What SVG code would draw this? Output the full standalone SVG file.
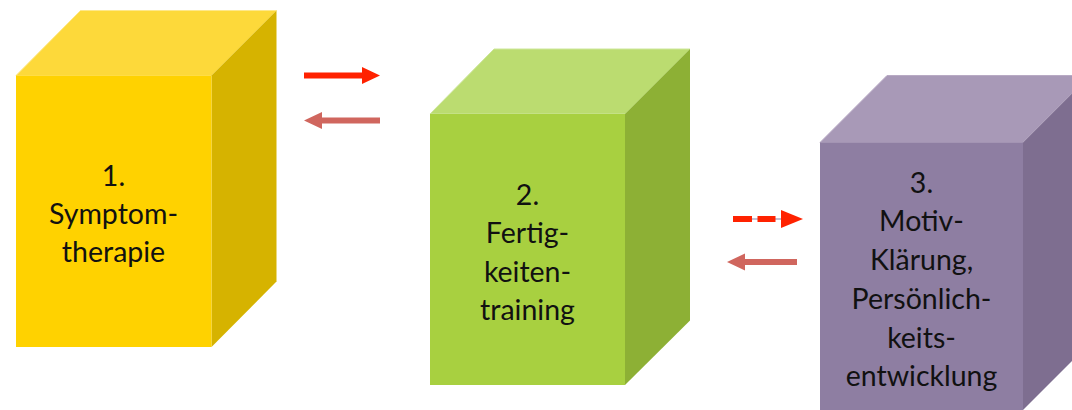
<svg xmlns="http://www.w3.org/2000/svg" width="1072" height="410" viewBox="0 0 1072 410">
  <style>
    .label { font-family: Lato, "Liberation Sans", sans-serif; font-size: 28.5px; fill: #111; text-anchor: middle; }
    .edge { stroke-width: 1; }
    .red { fill: #FF2200; }
    .rose { fill: #D0665E; }
  </style>

  <rect width="1072" height="410" fill="#FFFFFF"/>

  <!-- Box 1: Symptomtherapie -->
  <g id="node-symptomtherapie">
    <polygon points="16,75.5 80.5,10.5 276.5,10.5 211.5,75.5" fill="#FDD93A" stroke="#FEE88A" class="edge"/>
    <polygon points="211.5,75.5 276.5,10.5 276.5,281.5 211.5,347" fill="#D6B300"/>
    <rect x="16" y="75.5" width="195.5" height="271.5" fill="#FFD200"/>
    <text class="label" x="113.5" y="186">1.</text>
    <text class="label" x="113.5" y="224">Symptom-</text>
    <text class="label" x="113.5" y="262">therapie</text>
  </g>

  <!-- Box 2: Fertigkeitentraining -->
  <g id="node-fertigkeitentraining">
    <polygon points="430,114 494,49 690,49 625,114" fill="#BBDC70" stroke="#CDE69A" class="edge"/>
    <polygon points="625,114 690,49 690,320.5 625,385" fill="#8DB035"/>
    <rect x="430" y="114" width="195" height="271" fill="#A8D040"/>
    <text class="label" x="527.5" y="205">2.</text>
    <text class="label" x="527.5" y="243">Fertig-</text>
    <text class="label" x="527.5" y="282">keiten-</text>
    <text class="label" x="527.5" y="320">training</text>
  </g>

  <!-- Box 3: Motivklärung, Persönlichkeitsentwicklung -->
  <g id="node-motivklaerung">
    <polygon points="820,142.5 887,75.5 1090,75.5 1023,142.5" fill="#A899B7" stroke="#B8AAC4" class="edge"/>
    <polygon points="1023,142.5 1090,75.5 1090,343 1023,410" fill="#7E6E90"/>
    <rect x="820" y="142.5" width="203" height="270" fill="#8E7EA2"/>
    <text class="label" x="921.5" y="193">3.</text>
    <text class="label" x="921.5" y="231">Motiv-</text>
    <text class="label" x="921.5" y="270">Klärung,</text>
    <text class="label" x="921.5" y="309">Persönlich-</text>
    <text class="label" x="921.5" y="348">keits-</text>
    <text class="label" x="921.5" y="386">entwicklung</text>
  </g>

  <!-- Connectors: block arrows (shaft + head) -->
  <g id="connectors">
    <!-- 1 to 2 -->
    <path class="red" d="M304,72.5 H362 V67 L380,75.5 L362,84 V78.5 H304 Z"/>
    <!-- 2 to 1 -->
    <path class="rose" d="M380,117.5 H322 V112 L304,120.5 L322,129 V123.5 H380 Z"/>
    <!-- 2 to 3, dashed -->
    <line x1="733" y1="219" x2="782" y2="219" stroke="#B0A8C0" stroke-width="1.5"/>
    <rect class="red" x="733" y="216" width="19" height="6"/>
    <rect class="red" x="757.5" y="216" width="18" height="6"/>
    <path class="red" d="M781,210 L803,219 L781,228 Z"/>
    <!-- 3 to 2 -->
    <path class="rose" d="M797,259 H745 V253.5 L727,262 L745,270.5 V265 H797 Z"/>
  </g>
</svg>
